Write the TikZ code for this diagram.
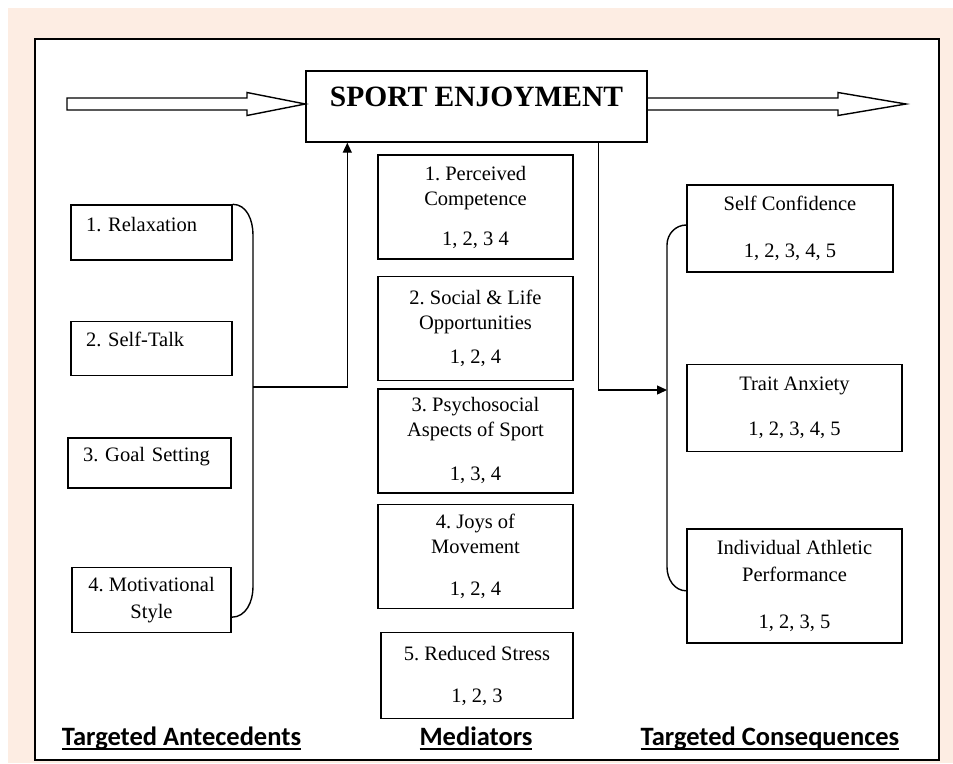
\documentclass[tikz,border=0pt]{standalone}
\usepackage{fontspec}
\setmainfont{Liberation Serif}
\newfontfamily\labelfont{Carlito}
\usetikzlibrary{positioning, arrows.meta}
\definecolor{pagepink}{RGB}{253,237,227}
\newcommand{\headline}[1]{\setbox0\hbox{#1}\rlap{\rule[-5pt]{\wd0}{2pt}}\box0}

\begin{document}
\frenchspacing
\begin{tikzpicture}[x=1pt, y=-1pt,
        basic/.style   = {draw, line width=1.4pt, rectangle, inner sep=0pt, font=\fontsize{20.5}{25}\selectfont},
        title/.style   = {basic, minimum width=341pt, minimum height=71pt, text height=20pt, text depth=20pt, font=\fontsize{29.5}{34}\selectfont\bfseries},
        antbox/.style  = {basic, text width=131pt, inner xsep=15pt, minimum height=54pt, align=left},
        antone/.style  = {antbox, text height=13pt, text depth=16pt},
        medbox/.style  = {basic, minimum width=195pt, minimum height=104pt, align=center},
        conbox/.style  = {basic, minimum width=215pt, minimum height=87pt, align=center},
        heading/.style = {font=\fontsize{26.5}{30}\selectfont\labelfont\bfseries, anchor=base, inner sep=0pt},
        line/.style    = {draw, line width=1.4pt},
        >={Triangle[length=10pt, width=9pt]}]

    % page and frame
    \useasboundingbox (0,0) rectangle (953,763);
    \fill[white] (0,0) rectangle (953,763);
    \fill[pagepink] (8,8) rectangle (953,763);
    \fill[white] (35,39) rectangle (939,760);
    \draw[line width=2pt] (35,39) rectangle (939,760);

    % central box
    \node[title] (sport) at (476.5,106.5) {SPORT ENJOYMENT};

    % targeted antecedents
    \node[antone, minimum height=55pt] (rel) at (151.5,232.5) {1. Relaxation};
    \node[antone, below=60pt of rel] (talk) {2. Self-Talk};
    \node[antone, minimum height=50pt, below=61pt of talk, xshift=-2pt, text width=133pt] (goal) {3. Goal Setting};
    \node[basic, minimum width=159pt, minimum height=65pt, align=center, below=78pt of goal, xshift=2pt] (motiv) {4. Motivational\\[2pt]Style};

    % mediators
    \node[medbox] (m1) at (475.5,207) {1. Perceived\\Competence\\[15pt]1, 2, 3 4};
    \node[medbox, below=16pt of m1] (m2) {2. Social \& Life\\Opportunities\\[9pt]1, 2, 4};
    \node[medbox, below=7pt of m2] (m3) {3. Psychosocial\\Aspects of Sport\\[19pt]1, 3, 4};
    \node[medbox, below=10pt of m3] (m4) {4. Joys of\\Movement\\[17pt]1, 2, 4};
    \node[medbox, minimum width=192pt, minimum height=86pt, below=23pt of m4, xshift=1.5pt] (m5) {5. Reduced Stress\\[17pt]1, 2, 3};

    % targeted consequences
    \node[conbox, minimum width=206pt] (c1) at (790,228.5) {Self Confidence\\[22pt]1, 2, 3, 4, 5};
    \node[conbox, below=91pt of c1, xshift=4.5pt] (c2) {Trait Anxiety\\[20pt]1, 2, 3, 4, 5};
    \node[conbox, minimum height=114pt, below=76pt of c2] (c3) {Individual Athletic\\[2pt]Performance\\[22pt]1, 2, 3, 5};

    % hollow arrows in and out
    \coordinate (inarrow) at (67,104);
    \coordinate (outarrow) at (906,104);
    \draw[line] (inarrow) ++(0,-6) -- (247,98) -- (247,92.5) -- (sport.west |- inarrow)
        -- (247,115.5) -- (247,110) -- (67,110) -- cycle;
    \draw[line] (sport.east |- 0,98) -- (838,98) -- (838,92.5) -- (outarrow)
        -- (838,115.5) -- (838,110) -- (sport.east |- 0,110);

    % bracket of the antecedents, up to the central box
    \coordinate (antjoin) at (253,387);
    \draw[line] (rel.north east) to[out=0, in=90] (253,235) -- (253,587)
        to[out=-90, in=0] ([yshift=-17.5pt]motiv.east);
    \draw[line, ->] (antjoin) -| ([xshift=42pt]sport.south west);

    % from the central box down to the consequences
    \coordinate (conjoin) at (667,390);
    \draw[line] ([yshift=3.5pt]c1.west) to[out=180, in=90] (667,245) -- (667,567)
        to[out=-90, in=180] ([yshift=-5pt]c3.west);
    \draw[line, ->] ([xshift=-49pt]sport.south east) |- (conjoin);

    % column headings
    \node[heading] (hant) at (181.5,745) {\headline{Targeted Antecedents}};
    \node[heading] (hmed) at (476,745) {\headline{Mediators}};
    \node[heading] (hcon) at (770,745) {\headline{Targeted Consequences}};

\end{tikzpicture}
\end{document}
